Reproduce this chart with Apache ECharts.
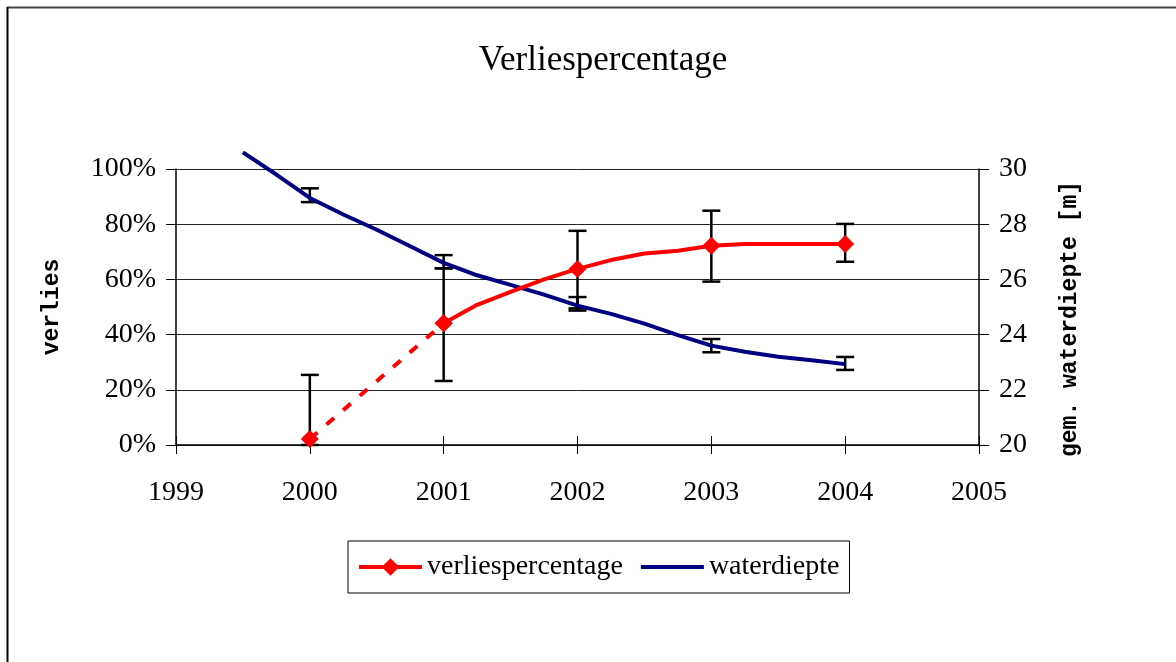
<!DOCTYPE html>
<html>
<head>
<meta charset="utf-8">
<script src="https://cdn.jsdelivr.net/npm/echarts@6/dist/echarts.min.js"></script>
<style>
html,body{margin:0;padding:0;background:#fff;}
#c{width:1176px;height:662px;}
</style>
</head>
<body>
<div id="c"></div>
<script>
// ---- data ----
const years = [2000, 2001, 2002, 2003, 2004];
const lossPct = [2.2, 44.1, 63.8, 72.2, 72.8];
const lossLow = [0, 23.2, 49.5, 59.2, 66.4];
const lossHigh = [25.4, 64.0, 77.6, 84.9, 80.1];
const lossCurveX = [2001, 2001.25, 2001.5, 2001.75, 2002, 2002.25, 2002.5, 2002.75, 2003, 2003.25, 2003.5, 2003.75, 2004];
const lossCurve = [44.1, 50.8, 55.5, 60.0, 63.8, 67.0, 69.4, 70.4, 72.2, 72.8, 72.8, 72.8, 72.8];
const depthX = [1999.5, 1999.75, 2000, 2000.25, 2000.5, 2000.75, 2001, 2001.25, 2001.5, 2001.75, 2002, 2002.25, 2002.5, 2002.75, 2003, 2003.25, 2003.5, 2003.75, 2004];
const depth = [30.6, 29.8, 28.95, 28.35, 27.8, 27.2, 26.6, 26.15, 25.8, 25.45, 25.05, 24.75, 24.4, 23.98, 23.6, 23.38, 23.2, 23.07, 22.93];
const depthLow = [28.8, 26.4, 24.87, 23.36, 22.72];
const depthHigh = [29.3, 26.88, 25.36, 23.84, 23.19];

const serif = 'Liberation Serif';
const mono = 'Liberation Mono';

function errBar(params, api) {
  const x = api.value(0), lo = api.value(1), hi = api.value(2);
  const pLo = api.coord([x, lo]);
  const pHi = api.coord([x, hi]);
  const w = 9;
  const st = {stroke: '#000', lineWidth: 2.5};
  return {
    type: 'group',
    children: [
      {type: 'line', shape: {x1: pLo[0], y1: pLo[1], x2: pHi[0], y2: pHi[1]}, style: st},
      {type: 'line', shape: {x1: pLo[0] - w, y1: pLo[1], x2: pLo[0] + w, y2: pLo[1]}, style: st},
      {type: 'line', shape: {x1: pHi[0] - w, y1: pHi[1], x2: pHi[0] + w, y2: pHi[1]}, style: st}
    ]
  };
}

const lossCurveData = lossCurveX.map((x, i) => {
  const isYear = years.indexOf(x) >= 0;
  return isYear ? [x, lossCurve[i]] : {value: [x, lossCurve[i]], symbol: 'none'};
});

const chart = echarts.init(document.getElementById('c'), null, {renderer: 'canvas'});
chart.setOption({
  animation: false,
  backgroundColor: '#fff',
  title: {
    text: 'Verliespercentage',
    left: 598, top: 38, textAlign: 'center',
    textStyle: {fontFamily: serif, fontSize: 35, fontWeight: 'normal', color: '#000'}
  },
  legend: {
    data: ['verliespercentage', {name: 'waterdiepte', icon: 'path://M0,0L62,0L62,4L0,4Z'}],
    left: 348, top: 541,
    padding: [12, 10, 12, 9],
    itemGap: 18,
    itemWidth: 63, itemHeight: 22,
    lineStyle: {width: 4},
    borderColor: '#000', borderWidth: 1,
    textStyle: {fontFamily: serif, fontSize: 28, color: '#000'}
  },
  grid: {left: 176, right: 197, top: 169, bottom: 217},
  xAxis: [{
    type: 'value', min: 1999, max: 2005, interval: 1,
    axisLine: {lineStyle: {color: '#000', width: 1.5}},
    axisTick: {length: 9, lineStyle: {color: '#000'}},
    axisLabel: {fontFamily: serif, fontSize: 28, color: '#000', margin: 34, formatter: v => String(v)},
    splitLine: {show: false}
  }, {
    type: 'value', min: 1999, max: 2005, interval: 1, position: 'top', offset: -276,
    axisLine: {show: false},
    axisTick: {length: 9, lineStyle: {color: '#000'}},
    axisLabel: {show: false},
    splitLine: {show: false}
  }],
  yAxis: [{
    type: 'value', min: 0, max: 100, interval: 20,
    name: 'verlies', nameLocation: 'middle', nameRotate: 90, nameGap: 112,
    nameTextStyle: {fontFamily: mono, fontWeight: 'bold', fontSize: 23, color: '#000'},
    axisLine: {show: true, lineStyle: {color: '#000', width: 1.5}},
    axisTick: {show: true, length: 10, lineStyle: {color: '#000'}},
    axisLabel: {fontFamily: serif, fontSize: 28, color: '#000', margin: 20, formatter: v => v + '%'},
    splitLine: {show: true, lineStyle: {color: '#222', width: 1}}
  }, {
    type: 'value', min: 20, max: 30, interval: 2, position: 'right',
    name: 'gem. waterdiepte [m]', nameLocation: 'middle', nameRotate: 90, nameGap: 80,
    nameTextStyle: {fontFamily: mono, fontWeight: 'bold', fontSize: 23, color: '#000', padding: [0, 24, 0, 0]},
    axisLine: {show: true, lineStyle: {color: '#000', width: 1.5}},
    axisTick: {show: true, length: 10, lineStyle: {color: '#000'}},
    axisLabel: {fontFamily: serif, fontSize: 28, color: '#000', margin: 20},
    splitLine: {show: false}
  }],
  graphic: [
    {type: 'line', shape: {x1: 7, y1: 7.5, x2: 1176, y2: 7.5}, style: {stroke: '#444', lineWidth: 2}},
    {type: 'line', shape: {x1: 7.5, y1: 7, x2: 7.5, y2: 662}, style: {stroke: '#000', lineWidth: 2}}
  ],
  series: [
    {
      name: 'errLoss', type: 'custom', renderItem: errBar, z: 1, silent: true,
      xAxisIndex: 0, yAxisIndex: 0, clip: false,
      data: years.map((x, i) => [x, lossLow[i], lossHigh[i]])
    },
    {
      name: 'errDepth', type: 'custom', renderItem: errBar, z: 1, silent: true,
      xAxisIndex: 0, yAxisIndex: 1, clip: false,
      data: years.map((x, i) => [x, depthLow[i], depthHigh[i]])
    },
    {
      name: 'waterdiepte', type: 'line', xAxisIndex: 0, yAxisIndex: 1, z: 3,
      symbol: 'none', clip: false,
      lineStyle: {color: '#000080', width: 4},
      itemStyle: {color: '#000080'},
      data: depthX.map((x, i) => [x, depth[i]])
    },
    {
      name: 'verliesDashed', type: 'line', xAxisIndex: 0, yAxisIndex: 0, z: 4,
      symbol: 'diamond', symbolSize: 18, showSymbol: true,
      lineStyle: {color: '#ff0000', width: 4, type: [10, 12]},
      itemStyle: {color: '#ff0000'},
      data: [[years[0], lossPct[0]], [years[1], lossPct[1]]]
    },
    {
      name: 'verliespercentage', type: 'line', xAxisIndex: 0, yAxisIndex: 0, z: 5,
      symbol: 'diamond', symbolSize: 18, showSymbol: true,
      lineStyle: {color: '#ff0000', width: 4},
      itemStyle: {color: '#ff0000'},
      data: lossCurveData
    }
  ]
});
</script>
</body>
</html>
